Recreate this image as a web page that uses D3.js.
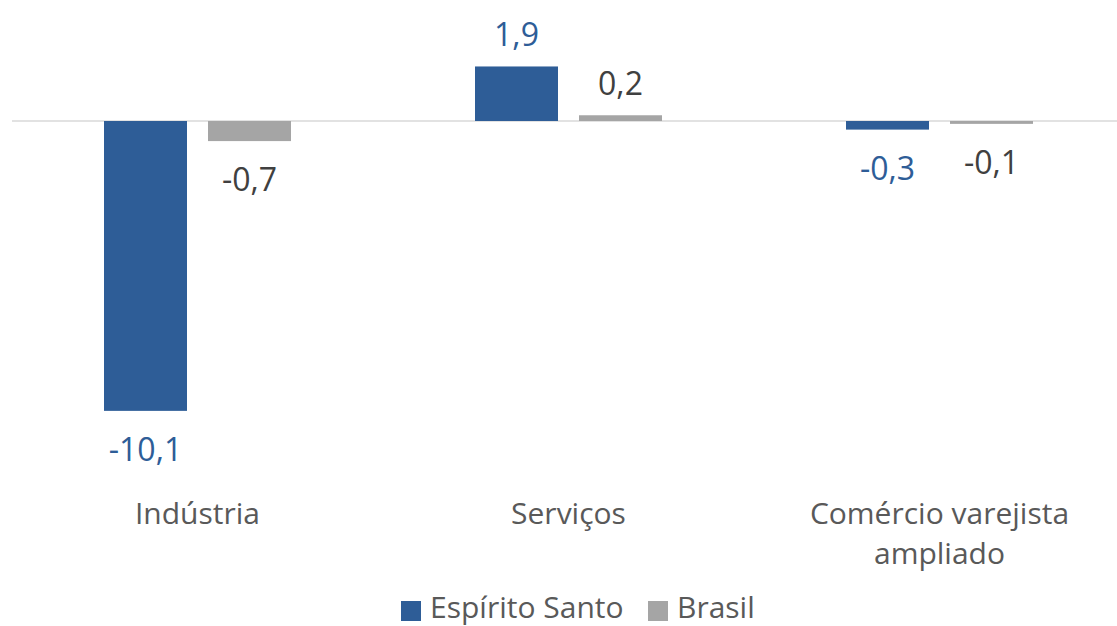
<!DOCTYPE html>
<html><head><meta charset="utf-8">
<script src="https://cdn.jsdelivr.net/npm/d3@7"></script>
<style>body{margin:0;background:#fff}svg{display:block}text{font-family:"Open Sans",sans-serif}</style>
</head><body><svg id="c" width="1117" height="626"></svg>
<script>
const categories = [["Indústria"], ["Serviços"], ["Comércio varejista", "ampliado"]];
const catKeys = ["Indústria", "Serviços", "Comércio varejista ampliado"];
const seriesNames = ["Espírito Santo", "Brasil"];
const espiritoSanto = [-10.1, 1.9, -0.3];
const brasil = [-0.7, 0.2, -0.1];
const seriesColors = ["#2E5D97", "#A5A5A5"];
const labelColors = ["#2E5D97", "#404040"];

const svg = d3.select("#c");
const x0 = d3.scaleBand().domain(catKeys).range([12, 1125]).padding(0);
const x1 = d3.scaleBand().domain(seriesNames).range([92, 371 - 92]).paddingInner(0.202);
const y = d3.scaleLinear().domain([-12, 4]).range([121 + 12 * 28.7, 121 - 4 * 28.7]);
const fmt = v => String(v).replace(".", ",");

const data = [espiritoSanto, brasil];

svg.append("line").attr("x1", 12).attr("x2", 1117).attr("y1", y(0)).attr("y2", y(0))
  .attr("stroke", "#D9D9D9").attr("stroke-width", 1.5);

seriesNames.forEach((s, si) => {
  const g = svg.append("g");
  data[si].forEach((v, i) => {
    const bx = x0(catKeys[i]) + x1(s);
    g.append("rect").attr("x", bx).attr("width", x1.bandwidth())
      .attr("y", Math.min(y(v), y(0))).attr("height", Math.abs(y(v) - y(0)))
      .attr("fill", seriesColors[si]);
    g.append("text").attr("x", bx + x1.bandwidth() / 2)
      .attr("y", v >= 0 ? y(v) - 20 : y(v) + 50)
      .attr("text-anchor", "middle").attr("font-size", 32)
      .attr("fill", labelColors[si]).text(fmt(v));
  });
});

categories.forEach((lines, i) => {
  const t = svg.append("text").attr("text-anchor", "middle").attr("font-size", 30).attr("fill", "#595959");
  lines.forEach((l, j) => {
    t.append("tspan").attr("x", x0(catKeys[i]) + x0.bandwidth() / 2).attr("y", 524 + j * 40).text(l);
  });
});

const leg = [{x: 401}, {x: 648}];
seriesNames.forEach((s, si) => {
  svg.append("rect").attr("x", leg[si].x).attr("y", 601).attr("width", 20).attr("height", 20).attr("fill", seriesColors[si]);
  svg.append("text").attr("x", leg[si].x + 29).attr("y", 618).attr("font-size", 30).attr("fill", "#595959").text(s);
});
</script></body></html>
